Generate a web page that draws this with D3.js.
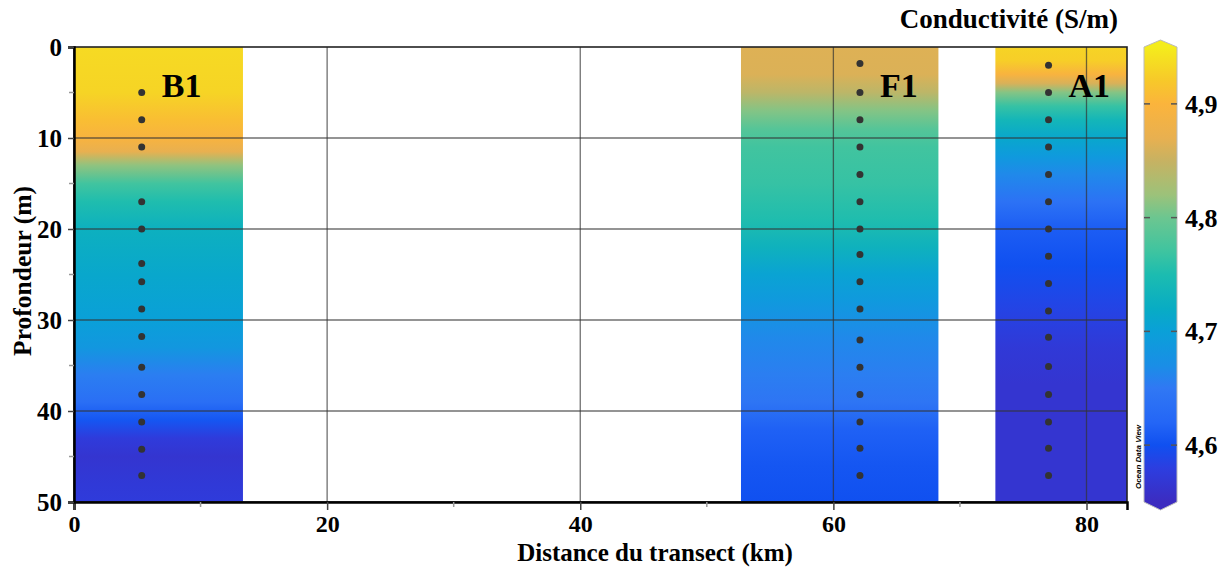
<!DOCTYPE html>
<html><head><meta charset="utf-8">
<script src="https://cdn.jsdelivr.net/npm/d3@7"></script>
<style>
html,body{margin:0;padding:0;background:#fff;}
svg text{font-family:"Liberation Serif","Times New Roman",serif;font-weight:bold;fill:#000;}
</style></head>
<body>
<svg id="chart" width="1230" height="568"></svg>
<script>
// ---------- data ----------
const stations = ["B1", "F1", "A1"];
const stationKm = [5.35, 62.1, 77.0];
const fieldStartKm = [0, 52.7, 72.8];
const fieldEndKm = [13.35, 68.3, 83.2];

// sample depths (dots)
const b1Samples = [5, 8, 11, 17, 20, 23.8, 25.8, 28.8, 31.8, 35.2, 38.2, 41.2, 44.2, 47.1];
const f1Samples = [1.8, 5, 8, 11, 14, 17, 20, 22.8, 25.8, 28.8, 32.2, 35.2, 38.2, 41.2, 44.1, 47.1];
const a1Samples = [2, 5, 8, 11, 14, 17, 20, 23, 26, 29, 31.9, 35.1, 38.2, 41.2, 44.1, 47.1];

// gridded conductivity profiles (S/m) read from the section
const b1Depths = [0, 5, 8, 10, 11.5, 13, 15, 17, 20, 25, 30, 33, 36, 39, 41, 43, 45, 48, 50];
const b1Values = [4.935, 4.93, 4.91, 4.895, 4.87, 4.815, 4.772, 4.752, 4.728, 4.712, 4.70, 4.685, 4.655, 4.635, 4.605, 4.575, 4.565, 4.572, 4.575];
const f1Depths = [0, 3, 5, 7, 9, 11, 15, 19, 22, 25, 28, 32, 36, 39, 42, 46, 50];
const f1Values = [4.864, 4.862, 4.842, 4.81, 4.785, 4.772, 4.765, 4.752, 4.73, 4.705, 4.688, 4.665, 4.655, 4.645, 4.615, 4.605, 4.60];
const a1Depths = [0, 1.5, 3, 4, 5, 6.5, 8, 10, 12, 14, 17, 20, 24, 29, 33, 37, 50];
const a1Values = [4.93, 4.925, 4.895, 4.86, 4.81, 4.765, 4.738, 4.712, 4.69, 4.665, 4.64, 4.612, 4.60, 4.585, 4.572, 4.565, 4.565];

const samples = [b1Samples, f1Samples, a1Samples];
const profDepths = [b1Depths, f1Depths, a1Depths];
const profValues = [b1Values, f1Values, a1Values];

// colour map
const cmapValues = [4.55, 4.58, 4.60, 4.62, 4.65, 4.67, 4.70, 4.72, 4.75, 4.77, 4.80, 4.82, 4.85, 4.87, 4.90, 4.92, 4.95];
const cmapColors = ["#3c2cc0", "#2c3ee0", "#1050f0", "#2466f6", "#3078f4", "#1a8ee6", "#0aa0d8", "#08acc4", "#1cbcb0", "#3ec4a0", "#6cc690", "#9cc27a", "#c7b262", "#e8b050", "#fbb43c", "#f7c82a", "#f4ec1c"];

const xTicks = [0, 20, 40, 60, 80];
const xMinorTicks = [10, 30, 50, 70];
const yTicks = [0, 10, 20, 30, 40, 50];
const yMinorTicks = [5, 15, 25, 35, 45];
const cbarTicks = [4.6, 4.7, 4.8, 4.9];
const fmt = d => String(d).replace(".", ",");

// ---------- layout ----------
const svg = d3.select("#chart");
const L = 74, R = 1127, T = 47, B = 502;
const x = d3.scaleLinear().domain([0, 83.2]).range([L, R]);
const y = d3.scaleLinear().domain([0, 50]).range([T, B]);
const color = d3.scaleLinear().domain(cmapValues).range(cmapColors).clamp(true);

const defs = svg.append("defs");

// fields
stations.forEach((s, i) => {
  const g = defs.append("linearGradient").attr("id", "grad" + s)
    .attr("gradientUnits", "userSpaceOnUse")
    .attr("x1", 0).attr("x2", 0).attr("y1", y(0)).attr("y2", y(50));
  profDepths[i].forEach((d, k) => {
    g.append("stop").attr("offset", d / 50).attr("stop-color", color(profValues[i][k]));
  });
  svg.append("rect")
    .attr("x", x(fieldStartKm[i])).attr("y", y(0))
    .attr("width", x(fieldEndKm[i]) - x(fieldStartKm[i]))
    .attr("height", y(50) - y(0))
    .attr("fill", "url(#grad" + s + ")");
});

// grid
const grid = svg.append("g").attr("stroke", "#333").attr("stroke-opacity", 0.7).attr("stroke-width", 1.3);
xTicks.filter(d => d > 0).forEach(d => grid.append("line").attr("x1", x(d)).attr("x2", x(d)).attr("y1", T).attr("y2", B));
yTicks.filter(d => d > 0 && d < 50).forEach(d => grid.append("line").attr("x1", L).attr("x2", R).attr("y1", y(d)).attr("y2", y(d)));

// dots
stations.forEach((s, i) => {
  svg.append("g").selectAll("circle").data(samples[i]).join("circle")
    .attr("cx", x(stationKm[i])).attr("cy", d => y(d)).attr("r", 3.5).attr("fill", "#333");
});

// station labels
stations.forEach((s, i) => {
  svg.append("text").attr("x", x(stationKm[i]) + 20).attr("y", y(5) + 4)
    .attr("font-size", 34).text(s);
});

// frame
svg.append("rect").attr("x", L).attr("y", T).attr("width", R - L).attr("height", B - T)
  .attr("fill", "none").attr("stroke", "#222").attr("stroke-width", 1.6);

// axes
const xAxis = svg.append("g").attr("transform", `translate(0,${B})`)
  .call(d3.axisBottom(x).tickValues(xTicks).tickSize(8).tickPadding(5).tickFormat(fmt));
xAxis.select(".domain").attr("stroke", "#000").attr("stroke-width", 2.5);
xAxis.selectAll(".tick line").attr("stroke", "#444").attr("stroke-width", 1.5);
xAxis.selectAll("text").attr("font-size", 24).attr("font-family", "Liberation Serif").attr("font-weight", "bold").attr("fill", "#000");
svg.append("g").selectAll("line").data(xMinorTicks).join("line")
  .attr("x1", d => x(d)).attr("x2", d => x(d)).attr("y1", B).attr("y2", B + 5)
  .attr("stroke", "#999").attr("stroke-width", 1.5);

const yAxis = svg.append("g").attr("transform", `translate(${L},0)`)
  .call(d3.axisLeft(y).tickValues(yTicks).tickSize(6).tickPadding(6).tickFormat(fmt));
yAxis.select(".domain").attr("stroke", "#000").attr("stroke-width", 2.5);
yAxis.selectAll(".tick line").attr("stroke", "#444").attr("stroke-width", 1.5);
yAxis.selectAll("text").attr("font-size", 25).attr("font-family", "Liberation Serif").attr("font-weight", "bold").attr("fill", "#000");
svg.append("g").selectAll("line").data(yMinorTicks).join("line")
  .attr("x1", L - 5).attr("x2", L).attr("y1", d => y(d)).attr("y2", d => y(d))
  .attr("stroke", "#999").attr("stroke-width", 1.5);

// axis titles
svg.append("text").attr("x", 655).attr("y", 561).attr("text-anchor", "middle")
  .attr("font-size", 25).text("Distance du transect (km)");
svg.append("text").attr("transform", `translate(31,271) rotate(-90)`)
  .attr("text-anchor", "middle").attr("font-size", 25.5).text("Profondeur (m)");

// colour bar
const cbL = 1144, cbR = 1177;
const cy = d3.scaleLinear().domain([4.55, 4.95]).range([B, T]);
const cg = defs.append("linearGradient").attr("id", "cbar").attr("gradientUnits", "userSpaceOnUse")
  .attr("x1", 0).attr("x2", 0).attr("y1", cy(4.55) + 8).attr("y2", cy(4.95) - 7);
const span = (cy(4.55) + 8) - (cy(4.95) - 7);
cmapValues.forEach((v, k) => {
  cg.append("stop").attr("offset", ((cy(4.55) + 8) - cy(v)) / span).attr("stop-color", cmapColors[k]);
});
const cmid = (cbL + cbR) / 2;
svg.append("path")
  .attr("d", `M${cbL},${cy(4.95)} L${cmid},${cy(4.95) - 7} L${cbR},${cy(4.95)} L${cbR},${cy(4.55)} L${cmid},${cy(4.55) + 8} L${cbL},${cy(4.55)} Z`)
  .attr("fill", "url(#cbar)").attr("stroke", "#bbb").attr("stroke-width", 1);
const ct = svg.append("g");
cbarTicks.forEach(v => {
  ct.append("line").attr("x1", cbL).attr("x2", cbL + 6).attr("y1", cy(v)).attr("y2", cy(v)).attr("stroke", "#555").attr("stroke-width", 1.5);
  ct.append("line").attr("x1", cbR - 6).attr("x2", cbR).attr("y1", cy(v)).attr("y2", cy(v)).attr("stroke", "#555").attr("stroke-width", 1.5);
  ct.append("text").attr("x", cbR + 8).attr("y", cy(v) + 9).attr("font-size", 26).text(fmt(v));
});

svg.append("text").attr("x", 1118).attr("y", 28).attr("text-anchor", "end")
  .attr("font-size", 27).text("Conductivité (S/m)");

svg.append("text").attr("transform", `translate(1141,457) rotate(-90)`)
  .attr("text-anchor", "middle")
  .style("font-family", "'Liberation Sans', Arial, sans-serif").style("font-style", "italic")
  .attr("font-size", 8).text("Ocean Data View");
</script>
</body></html>
